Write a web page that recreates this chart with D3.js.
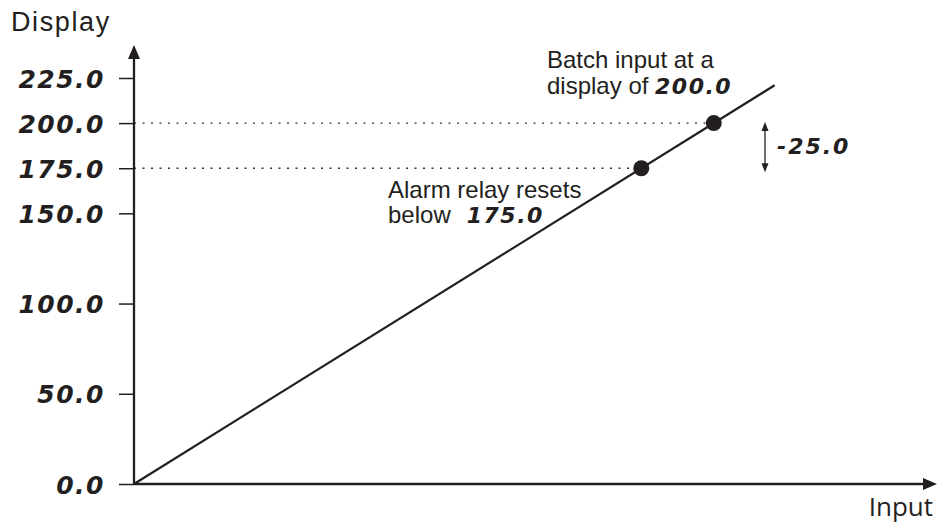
<!DOCTYPE html>
<html lang="en">
    <head>
        <meta charset="utf-8">
        <title>Display vs Input</title>
        <script type="text/javascript" src="https://cdnjs.cloudflare.com/ajax/libs/d3/7.8.5/d3.min.js"></script>
        <style type="text/css">
            body { margin: 0; background: #fff; }
            .seg { font-family: "DejaVu Sans", sans-serif; font-weight: bold; font-style: italic; }
            .lbl { font-family: "Liberation Sans", Arial, sans-serif; fill: #231f20; }
        </style>
    </head>
    <body>
        <script type="text/javascript">
            var w = 938;
            var h = 531;

            // data
            var tickValues = [0, 50, 100, 150, 175, 200, 225];
            var tickLabels = ["0.0", "50.0", "100.0", "150.0", "175.0", "200.0", "225.0"];
            var lineInput = [0, 221];
            var lineDisplay = [0, 221];
            var pointInput = [175, 200];
            var pointDisplay = [175, 200];
            var hysteresis = "-25.0";

            var ink = "#231f20";

            var x = d3.scaleLinear().domain([0, 277]).range([134, 937]);
            var y = d3.scaleLinear().domain([0, 225]).range([484, 78]);

            var svg = d3.select("body")
                        .append("svg")
                        .attr("width", w)
                        .attr("height", h);

            // y axis ticks + labels
            var yAxis = d3.axisLeft(y)
                          .tickValues(tickValues)
                          .tickSize(15)
                          .tickPadding(14)
                          .tickFormat(function(d, i) { return tickLabels[i]; });

            var gy = svg.append("g")
                        .attr("transform", "translate(" + x(0) + ",0)")
                        .call(yAxis);
            gy.select(".domain").remove();
            gy.selectAll(".tick line").attr("stroke", ink).attr("stroke-width", 1.5);
            gy.selectAll(".tick text")
              .attr("class", "seg")
              .attr("fill", ink)
              .attr("font-size", 25)
              .attr("letter-spacing", 1.5)
              .attr("dy", "0.36em");

            // dotted guides to the two points
            svg.selectAll("line.guide")
               .data(pointDisplay)
               .enter()
               .append("line")
               .attr("class", "guide")
               .attr("x1", x(0))
               .attr("x2", function(d, i) { return x(pointInput[i]); })
               .attr("y1", function(d) { return y(d); })
               .attr("y2", function(d) { return y(d); })
               .attr("stroke", "#333")
               .attr("stroke-width", 1.4)
               .attr("stroke-dasharray", "2,6.5");

            // axes with arrow heads
            svg.append("line")
               .attr("x1", x(0)).attr("y1", y(0))
               .attr("x2", x(0)).attr("y2", 55)
               .attr("stroke", ink).attr("stroke-width", 2.3);
            svg.append("path")
               .attr("d", "M" + x(0) + ",45 L" + (x(0) - 6) + ",59 L" + (x(0) + 6) + ",59 Z")
               .attr("fill", ink);

            svg.append("line")
               .attr("x1", x(0)).attr("y1", y(0))
               .attr("x2", 926).attr("y2", y(0))
               .attr("stroke", ink).attr("stroke-width", 2.3);
            svg.append("path")
               .attr("d", "M937," + y(0) + " L923," + (y(0) - 6) + " L923," + (y(0) + 6) + " Z")
               .attr("fill", ink);

            // the response line
            var line = d3.line()
                         .x(function(d, i) { return x(lineInput[i]); })
                         .y(function(d) { return y(d); });
            svg.append("path")
               .datum(lineDisplay)
               .attr("d", line)
               .attr("fill", "none")
               .attr("stroke", ink)
               .attr("stroke-width", 2.2);

            svg.selectAll("circle")
               .data(pointDisplay)
               .enter()
               .append("circle")
               .attr("cx", function(d, i) { return x(pointInput[i]); })
               .attr("cy", function(d) { return y(d); })
               .attr("r", 8)
               .attr("fill", ink);

            // hysteresis arrow
            var hx = 765;
            svg.append("line")
               .attr("x1", hx).attr("y1", y(200) + 4)
               .attr("x2", hx).attr("y2", y(175) - 4)
               .attr("stroke", ink).attr("stroke-width", 1.3);
            svg.append("path")
               .attr("d", "M" + hx + "," + (y(200) - 1) + " l-3.5,9 l7,0 Z")
               .attr("fill", ink);
            svg.append("path")
               .attr("d", "M" + hx + "," + (y(175) + 4) + " l-3.5,-9 l7,0 Z")
               .attr("fill", ink);
            svg.append("text")
               .attr("class", "seg")
               .attr("x", 777)
               .attr("y", (y(200) + y(175)) / 2 + 8)
               .attr("font-size", 22)
               .attr("letter-spacing", 2)
               .attr("fill", ink)
               .text(hysteresis);

            // axis titles
            svg.append("text")
               .attr("class", "lbl")
               .attr("x", 11).attr("y", 31)
               .attr("font-size", 27)
               .attr("letter-spacing", 1.6)
               .text("Display");
            svg.append("text")
               .attr("x", 933).attr("y", 516)
               .attr("text-anchor", "end")
               .attr("font-family", "'Open Sans', sans-serif")
               .attr("font-size", 26)
               .attr("fill", ink)
               .text("Input");

            // annotations
            var t1 = svg.append("text").attr("class", "lbl").attr("font-size", 24);
            t1.append("tspan").attr("x", 547).attr("y", 68).text("Batch input at a");
            var l2 = t1.append("tspan").attr("x", 547).attr("y", 94);
            l2.append("tspan").text("display of ");
            l2.append("tspan").attr("class", "seg").attr("font-size", 22).attr("letter-spacing", 1.5).text(tickLabels[5]);

            var t2 = svg.append("text").attr("class", "lbl").attr("font-size", 24);
            t2.append("tspan").attr("x", 388).attr("y", 198).text("Alarm relay resets");
            var l4 = t2.append("tspan").attr("x", 388).attr("y", 223);
            l4.append("tspan").text("below");
            l4.append("tspan").attr("class", "seg").attr("dx", 16).attr("font-size", 22).attr("letter-spacing", 1.5).text(tickLabels[4]);
        </script>
    </body>
</html>
